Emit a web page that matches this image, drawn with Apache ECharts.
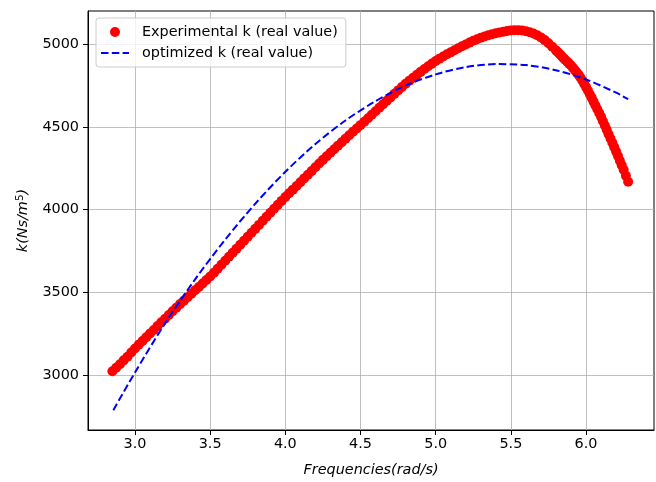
<!DOCTYPE html>
<html>
<head>
<meta charset="utf-8">
<script src="https://cdn.jsdelivr.net/npm/echarts@6/dist/echarts.min.js"></script>
<style>
html,body{margin:0;padding:0;background:#fff;}
#c{width:656px;height:482px;}
</style>
</head>
<body>
<div id="c"></div>
<script>
// Experimental k (real value)
const freqExp = [2.85, 2.875, 2.9, 2.925, 2.95, 2.975, 3.0, 3.025, 3.05, 3.075, 3.1, 3.125, 3.15, 3.175, 3.2, 3.225, 3.25, 3.275, 3.3, 3.325, 3.35, 3.375, 3.4, 3.425, 3.45, 3.475, 3.5, 3.525, 3.55, 3.575, 3.6, 3.625, 3.65, 3.675, 3.7, 3.725, 3.75, 3.775, 3.8, 3.825, 3.85, 3.875, 3.9, 3.925, 3.95, 3.975, 4.0, 4.025, 4.05, 4.075, 4.1, 4.125, 4.15, 4.175, 4.2, 4.225, 4.25, 4.275, 4.3, 4.325, 4.35, 4.375, 4.4, 4.425, 4.45, 4.475, 4.5, 4.525, 4.55, 4.575, 4.6, 4.625, 4.65, 4.675, 4.7, 4.725, 4.75, 4.775, 4.8, 4.825, 4.85, 4.875, 4.9, 4.925, 4.95, 4.975, 5.0, 5.025, 5.05, 5.075, 5.1, 5.125, 5.15, 5.175, 5.2, 5.225, 5.25, 5.275, 5.3, 5.325, 5.35, 5.375, 5.4, 5.425, 5.45, 5.475, 5.5, 5.525, 5.55, 5.575, 5.6, 5.625, 5.65, 5.675, 5.7, 5.725, 5.75, 5.775, 5.8, 5.8125, 5.825, 5.8375, 5.85, 5.8625, 5.875, 5.8875, 5.9, 5.9125, 5.925, 5.9375, 5.95, 5.9625, 5.975, 5.9875, 6.0, 6.0125, 6.025, 6.0375, 6.05, 6.0625, 6.075, 6.0875, 6.1, 6.1125, 6.125, 6.1375, 6.15, 6.1625, 6.175, 6.1875, 6.2, 6.2125, 6.225, 6.2375, 6.25, 6.265, 6.28];
const kExp = [3022, 3043, 3065, 3088, 3110, 3135, 3160, 3182, 3205, 3228, 3250, 3272, 3295, 3318, 3340, 3362, 3385, 3406, 3428, 3449, 3470, 3491, 3512, 3532, 3553, 3574, 3595, 3618, 3642, 3666, 3690, 3714, 3738, 3762, 3787, 3811, 3835, 3859, 3883, 3907, 3932, 3956, 3980, 4004, 4028, 4052, 4076, 4098, 4120, 4142, 4165, 4188, 4210, 4232, 4255, 4278, 4300, 4322, 4343, 4364, 4386, 4407, 4428, 4449, 4470, 4490, 4510, 4531, 4552, 4573, 4594, 4615, 4636, 4657, 4678, 4699, 4720, 4740, 4760, 4779, 4797, 4815, 4832, 4849, 4866, 4882, 4898, 4912, 4925, 4938, 4950, 4963, 4975, 4987, 4998, 5009, 5020, 5029, 5038, 5046, 5053, 5059, 5065, 5070, 5075, 5079, 5082, 5084, 5084, 5082, 5078, 5072, 5064, 5053, 5040, 5024, 5005, 4984, 4962, 4951, 4940, 4928, 4915, 4904, 4893, 4882, 4870, 4857, 4843, 4829, 4815, 4798, 4780, 4760, 4740, 4719, 4697, 4675, 4652, 4629, 4606, 4583, 4560, 4534, 4508, 4482, 4455, 4429, 4403, 4377, 4350, 4323, 4295, 4268, 4240, 4204, 4168];

// optimized k (real value)
const freqOpt = [2.856, 3.0, 3.2, 3.4, 3.6, 3.8, 4.0, 4.2, 4.4, 4.6, 4.8, 5.0, 5.2, 5.4, 5.6, 5.8, 6.0, 6.2, 6.28];
const kOpt = [2787, 3015, 3312, 3578, 3818, 4035, 4228, 4396, 4538, 4655, 4749, 4817, 4861, 4879, 4873, 4842, 4786, 4706, 4667];

// tick labels
const xTicks = [3.0, 3.5, 4.0, 4.5, 5.0, 5.5, 6.0];
const yTicks = [3000, 3500, 4000, 4500, 5000];

const seriesNames = ['Experimental k (real value)', 'optimized k (real value)'];

const FONT = 'DejaVu Sans';
const FS = 14.4;
const chart = echarts.init(document.getElementById('c'), null, {renderer: 'canvas'});

const expData = freqExp.map((f, i) => [f, kExp[i]]);
const optData = freqOpt.map((f, i) => [f, kOpt[i]]);

chart.setOption({
  animation: false,
  backgroundColor: '#ffffff',
  textStyle: {fontFamily: FONT},
  grid: {left: 88, right: 2, top: 11, bottom: 49, show: true, borderColor: '#000', borderWidth: 1, containLabel: false},
  legend: {
    orient: 'vertical',
    left: 96, top: 18,
    padding: [7, 8, 7, 4],
    itemWidth: 28, itemHeight: 10, itemGap: 7,
    backgroundColor: 'rgba(255,255,255,0.8)',
    borderColor: '#cccccc', borderWidth: 1, borderRadius: 3,
    textStyle: {fontFamily: FONT, fontSize: FS, color: '#000', padding: [0, 0, 0, 8]},
    data: [
      {name: seriesNames[0], icon: 'circle'},
      {name: seriesNames[1], itemStyle: {color: 'rgba(0,0,0,0)', borderWidth: 0, opacity: 0}}
    ]
  },
  xAxis: {
    type: 'value', min: 2.6875, max: 6.452,
    name: 'Frequencies(rad/s)', nameLocation: 'middle', nameGap: 33,
    nameTextStyle: {fontFamily: FONT, fontSize: FS, fontStyle: 'italic', color: '#000'},
    axisLine: {show: true, lineStyle: {color: '#000', width: 1}},
    axisTick: {show: true, length: 5, lineStyle: {color: '#000', width: 1}, customValues: xTicks},
    axisLabel: {customValues: xTicks, formatter: v => v.toFixed(1), fontFamily: FONT, fontSize: FS, color: '#000', margin: 7},
    splitLine: {show: true, lineStyle: {color: '#b0b0b0', width: 0.8}}
  },
  yAxis: {
    type: 'value', min: 2667, max: 5200,
    name: '{i|k(Ns/m}{s|5}{i|)}', nameLocation: 'middle', nameGap: 50, nameRotate: 90,
    nameTextStyle: {
      fontFamily: FONT, fontSize: FS, color: '#000',
      rich: {
        i: {fontFamily: FONT, fontSize: FS, fontStyle: 'italic', color: '#000', lineHeight: 18},
        s: {fontFamily: FONT, fontSize: 10.5, color: '#000', verticalAlign: 'top', lineHeight: 18, padding: [0, 0, 6, 0]}
      }
    },
    axisLine: {show: true, lineStyle: {color: '#000', width: 1}},
    axisTick: {show: true, length: 5, lineStyle: {color: '#000', width: 1}, customValues: yTicks},
    axisLabel: {customValues: yTicks, formatter: v => String(v), fontFamily: FONT, fontSize: FS, color: '#000', margin: 9},
    splitLine: {show: true, lineStyle: {color: '#b0b0b0', width: 0.8}}
  },
  series: [
    {
      name: seriesNames[0], type: 'scatter', data: expData,
      symbol: 'circle', symbolSize: 10,
      itemStyle: {color: '#ff0000', opacity: 1},
      z: 2
    },
    {
      name: seriesNames[1], type: 'line', data: optData,
      smooth: 0.3, symbol: 'none', showSymbol: false,
      lineStyle: {color: '#0000ff', width: 2, type: [7.5, 3.3]},
      itemStyle: {color: '#0000ff'},
      z: 3
    }
  ]
});
</script>
</body>
</html>
